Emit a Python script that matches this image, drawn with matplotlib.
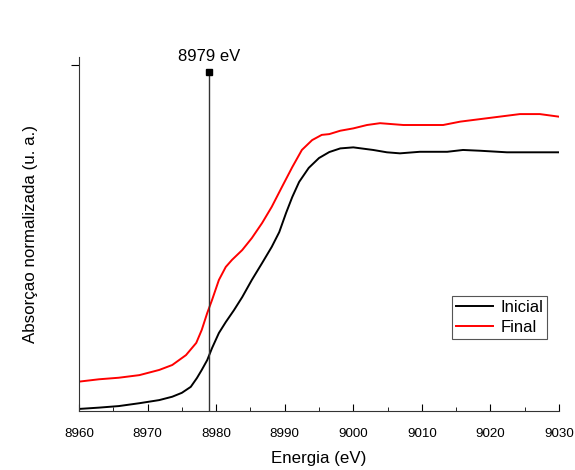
import matplotlib
matplotlib.use("Agg")
import matplotlib.pyplot as plt

plt.rcParams['font.family'] = ['Liberation Sans', 'DejaVu Sans']

# energy (eV) and normalized absorption
e_ini = [8960.0, 8962.9, 8965.8, 8968.8, 8971.7, 8973.6, 8975.0, 8976.3, 8977.2,
         8977.9, 8978.7, 8979.4, 8980.4, 8981.4, 8982.6, 8983.8, 8985.2, 8986.7,
         8988.1, 8989.2, 8990.2, 8991.1, 8992.1, 8993.5, 8995.0, 8996.5, 8998.1,
         9000.0, 9002.9, 9004.9, 9006.8, 9009.7, 9013.7, 9016.0, 9018.5, 9022.4,
         9026.2, 9030.0]
a_ini = [0.008, 0.013, 0.019, 0.030, 0.042, 0.055, 0.070, 0.093, 0.127,
         0.158, 0.196, 0.242, 0.300, 0.342, 0.388, 0.438, 0.504, 0.569,
         0.631, 0.688, 0.762, 0.823, 0.881, 0.935, 0.973, 0.996, 1.010,
         1.014, 1.004, 0.995, 0.991, 0.997, 0.997, 1.004, 1.001, 0.995,
         0.995, 0.995]

e_fin = [8960.0, 8962.9, 8965.8, 8968.8, 8971.7, 8973.6, 8975.6, 8977.1, 8977.9,
         8978.7, 8979.4, 8980.4, 8981.4, 8982.3, 8983.8, 8985.2, 8986.7, 8988.1,
         8989.6, 8991.1, 8992.5, 8994.0, 8995.4, 8996.5, 8998.1, 9000.0, 9002.0,
         9003.9, 9007.3, 9013.1, 9015.6, 9019.5, 9024.3, 9027.2, 9030.0]
a_fin = [0.113, 0.122, 0.128, 0.138, 0.158, 0.177, 0.215, 0.262, 0.312,
         0.377, 0.427, 0.504, 0.554, 0.581, 0.619, 0.665, 0.723, 0.785,
         0.862, 0.938, 1.004, 1.042, 1.062, 1.065, 1.078, 1.087, 1.100,
         1.107, 1.100, 1.100, 1.113, 1.126, 1.142, 1.142, 1.132]

edge = 8979
xticks = [8960, 8970, 8980, 8990, 9000, 9010, 9020, 9030]

fig = plt.figure(figsize=(5.75, 4.7), dpi=100, facecolor='w')
ax = fig.add_axes([0.1374, 0.1255, 0.8348, 0.7532])

ax.plot(e_ini, a_ini, color='black', lw=1.4, label='Inicial')
ax.plot(e_fin, a_fin, color='red', lw=1.4, label='Final')

ax.plot([edge, edge], [0, 1.304], color='#333333', lw=1.0)
ax.plot([edge], [1.304], marker='s', color='black', ms=5)
ax.text(edge, 1.335, '8979 eV', ha='center', va='bottom', fontsize=12, clip_on=False)

ax.set_xlim(8960, 9030)
ax.set_ylim(0, 1.3615)
ax.set_xticks(xticks)
ax.set_xticks([x + 5 for x in xticks[:-1]], minor=True)
ax.set_yticks([1.331])
ax.set_yticklabels([])
ax.tick_params(axis='x', which='major', direction='in', length=5, labelsize=9.6, pad=12)
ax.tick_params(axis='x', which='minor', direction='in', length=3)
ax.tick_params(axis='y', direction='out', length=6)

for s in ['top', 'right']:
    ax.spines[s].set_visible(False)
for s in ['left', 'bottom']:
    ax.spines[s].set_color('#333333')

ax.set_xlabel('Energia (eV)', fontsize=12.2, labelpad=8)
ax.set_ylabel('Absorçao normalizada (u. a.)', fontsize=12.2, labelpad=20)

leg = ax.legend(loc='upper left', bbox_to_anchor=(0.777, 0.325), fontsize=12,
                fancybox=False, framealpha=1, edgecolor='#555555',
                handlelength=2.2, handletextpad=0.45, borderpad=0.25,
                labelspacing=0.3, borderaxespad=0)
leg.get_frame().set_linewidth(0.8)

plt.savefig('out.png', dpi=100)
plt.close()
